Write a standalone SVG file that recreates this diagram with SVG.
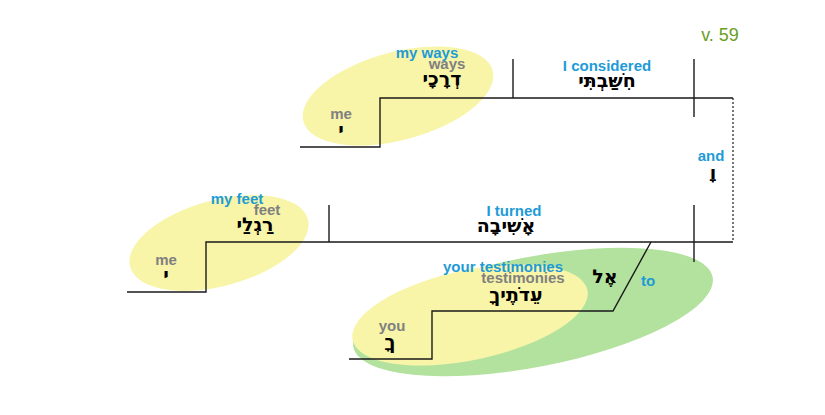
<svg xmlns="http://www.w3.org/2000/svg" width="825" height="415" viewBox="0 0 825 415">
<style>
.ln{stroke:#1a1a1a;stroke-width:1.4;fill:none}
.dot{stroke:#1a1a1a;stroke-width:1.2;stroke-dasharray:2,2;fill:none}
.yel{fill:#f8f5a8}
.grn{fill:#b3e29e}
.bl{font-family:"Liberation Sans",Arial,sans-serif;font-weight:bold;font-size:15px;fill:#1e9bd7;text-anchor:middle}
.gr{font-family:"Liberation Sans",Arial,sans-serif;font-weight:bold;font-size:15px;fill:#808080;text-anchor:middle}
.hb{font-family:"DejaVu Sans","Liberation Sans",sans-serif;font-weight:bold;font-size:19px;fill:#000;text-anchor:middle;direction:rtl}
.vs{font-family:"Liberation Sans",Arial,sans-serif;font-size:18px;fill:#6a9e1f;text-anchor:middle}
</style>
<g id="shading">
<ellipse class="grn" cx="533" cy="312" rx="183" ry="55" transform="rotate(-11 533 312)"/>
<ellipse class="yel" cx="398" cy="96" rx="98" ry="44" transform="rotate(-15 398 96)"/>
<ellipse class="yel" cx="219" cy="243" rx="92" ry="43" transform="rotate(-15 219 243)"/>
<ellipse class="yel" cx="470" cy="315" rx="120" ry="45" transform="rotate(-12 470 315)"/>
</g>
<g id="connectors">
<polyline class="ln" points="300,147 380,147 380,98 733,98"/>
<line class="ln" x1="513" y1="59" x2="513" y2="98"/>
<line class="ln" x1="694" y1="59" x2="694" y2="117"/>
<line class="dot" x1="733" y1="98" x2="733" y2="242"/>
<polyline class="ln" points="127,292 206,292 206,242 733,242"/>
<line class="ln" x1="329" y1="205" x2="329" y2="242"/>
<line class="ln" x1="694" y1="205" x2="694" y2="262"/>
<polyline class="ln" points="651,242 613,311 432,311 432,359 349,359"/>
</g>
<g id="verse"><text class="vs" x="720" y="41">v. 59</text></g>
<g id="my-ways">
<text class="bl" x="427" y="58">my ways</text>
<text class="gr" x="447" y="69">ways</text>
<text class="hb" x="442" y="85">דְרָכָי</text>
</g>
<g id="me1">
<text class="gr" x="341" y="119">me</text>
<text class="hb" x="341" y="136">י</text>
</g>
<g id="considered">
<text class="bl" x="607" y="71">I considered</text>
<text class="hb" x="607" y="87">חִשַּׁבְתִּי</text>
</g>
<g id="and">
<text class="bl" x="711" y="161">and</text>
<text class="hb" x="713" y="179">וָ</text>
</g>
<g id="my-feet">
<text class="bl" x="237" y="204">my feet</text>
<text class="gr" x="267" y="215">feet</text>
<text class="hb" x="255" y="231">רַגְלַי</text>
</g>
<g id="me2">
<text class="gr" x="166" y="265">me</text>
<text class="hb" x="166" y="281">י</text>
</g>
<g id="turned">
<text class="bl" x="514" y="216">I turned</text>
<text class="hb" x="506" y="232">אָשִׁיבָה</text>
</g>
<g id="testimonies">
<text class="bl" x="503" y="272">your testimonies</text>
<text class="gr" x="523" y="283">testimonies</text>
<text class="hb" x="516" y="301">עֵדֹתֶיךָ</text>
</g>
<g id="you">
<text class="gr" x="392" y="331">you</text>
<text class="hb" x="390" y="348">ךָ</text>
</g>
<g id="to">
<text class="hb" x="605" y="283">אֶל</text>
<text class="bl" x="648" y="286">to</text>
</g>
</svg>
